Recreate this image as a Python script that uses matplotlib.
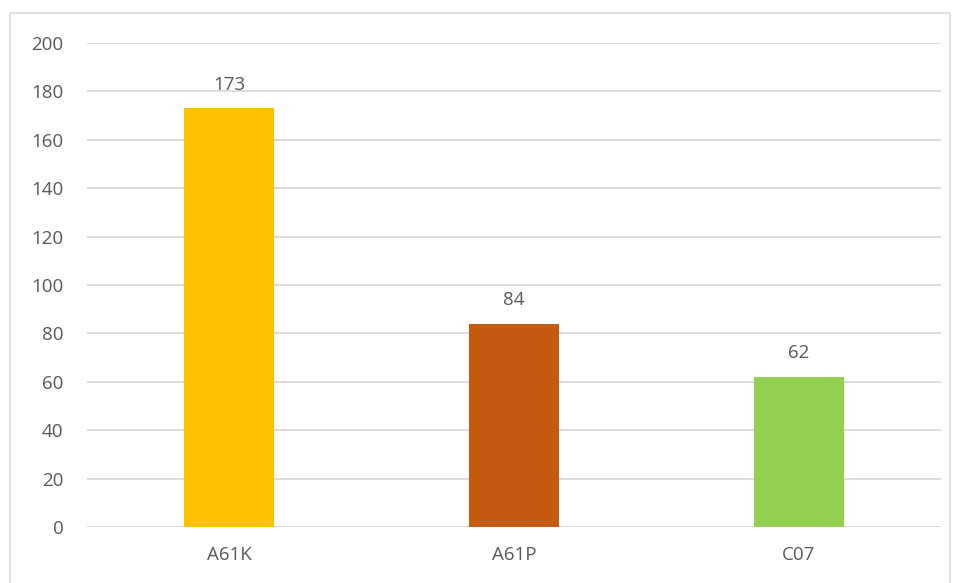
import matplotlib.pyplot as plt
from matplotlib.patches import Rectangle

categories = ['A61K', 'A61P', 'C07']
counts = [173, 84, 62]
bar_colors = ['#FFC000', '#C55A11', '#92D050']

plt.rcParams['font.family'] = ['Open Sans', 'DejaVu Sans']
text_color = '#595959'

fig = plt.figure(figsize=(9.56, 5.83), dpi=100)
ax = fig.add_axes([87 / 956, 56 / 583, 854 / 956, 484 / 583])

x = range(len(categories))
bars = ax.bar(x, counts, width=0.316, color=bar_colors, zorder=3)
for rect, v in zip(bars, counts):
    ax.text(rect.get_x() + rect.get_width() / 2, v + 6, str(v),
            ha='center', va='bottom', fontsize=13.5, color=text_color)

ax.set_xlim(-0.5, 2.5)
ax.set_ylim(0, 200)
ax.set_yticks(range(0, 201, 20))
ax.set_xticks(list(x))
ax.set_xticklabels(categories)
ax.grid(axis='y', color='#D9D9D9', linewidth=1.3, zorder=0)
ax.tick_params(axis='both', length=0, labelsize=13.5, colors=text_color)
ax.tick_params(axis='y', pad=17)
ax.tick_params(axis='x', pad=14)
for s in ax.spines.values():
    s.set_visible(False)
ax.axhline(0, color='#D9D9D9', linewidth=1.3, zorder=2)

# outer chart border
fig.patches.append(Rectangle((10 / 956, -0.05), 940 / 956, (583 - 13) / 583 + 0.05,
                             transform=fig.transFigure, fill=False,
                             edgecolor='#D9D9D9', linewidth=1.2))

fig.savefig('out.png', dpi=100)
